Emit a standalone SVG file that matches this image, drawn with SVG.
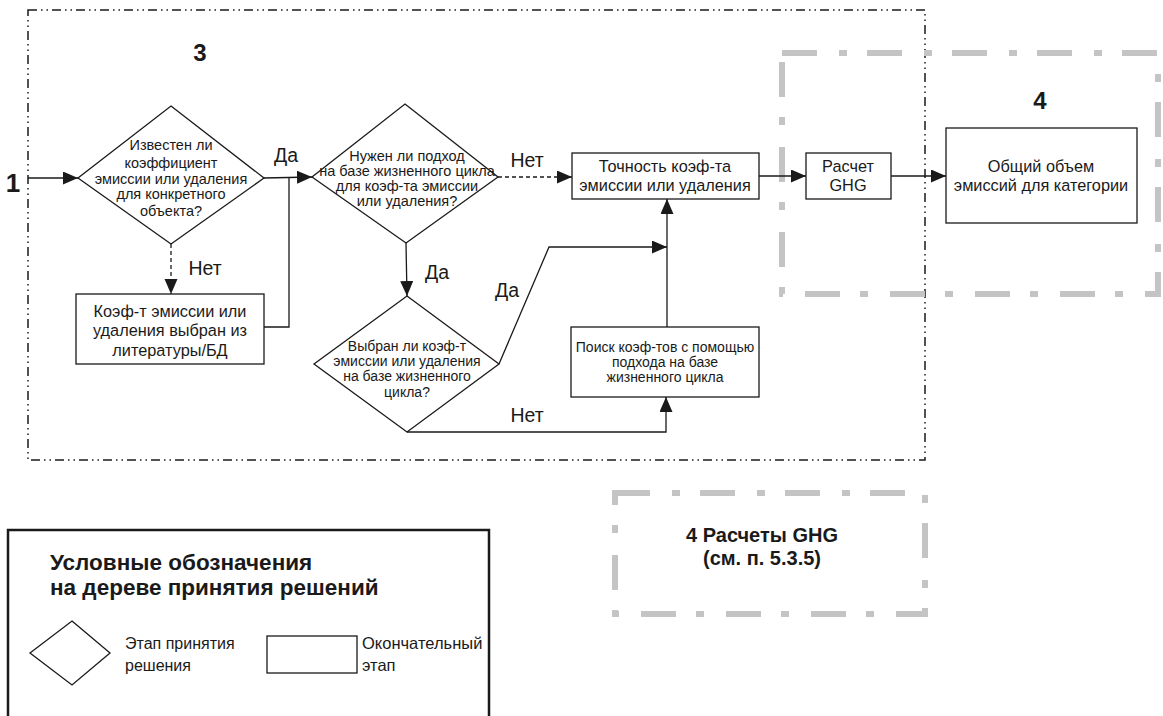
<svg xmlns="http://www.w3.org/2000/svg" width="1163" height="716" viewBox="0 0 1163 716">
<defs>
<style>
text{font-family:"Liberation Sans",Arial,sans-serif;fill:#1a1a1a}
.n{fill:#fff;stroke:#1a1a1a;stroke-width:1.3}
.c{fill:none;stroke:#1a1a1a;stroke-width:1.3}
.d{stroke-dasharray:4 3}
.t14{font-size:14.5px}
.t13{font-size:14.5px}
.t13b{font-size:14px}
.t15{font-size:16.3px}
.lab{font-size:19.5px}
.big{font-size:24px;font-weight:bold}
.frame3{fill:none;stroke:#1a1a1a;stroke-width:1.5;stroke-dasharray:9 4 1.5 4 1.5 4}
.gray{fill:none;stroke:#c4c4c4;stroke-width:6;stroke-dasharray:35 22 8 20}
</style>
<marker id="ar" markerUnits="userSpaceOnUse" markerWidth="16" markerHeight="14" refX="15" refY="6.5" orient="auto">
<path d="M0,0 L15,6.5 L0,13 z" fill="#1a1a1a"/>
</marker>
</defs>
<rect width="1163" height="716" fill="#fff"/>

<g id="frames">
<rect class="frame3" x="28" y="10" width="897" height="450"/>
<rect class="gray" x="782" y="53" width="376" height="241"/>
<rect class="gray" x="615" y="493" width="310" height="121"/>
<text x="200" y="61" class="big" text-anchor="middle">3</text>
<text x="1040" y="109" class="big" text-anchor="middle">4</text>
<text x="13" y="192" class="big" text-anchor="middle" style="font-size:26px">1</text>
</g>

<g id="connectors">
<line class="c" x1="28" y1="178" x2="78" y2="178" marker-end="url(#ar)"/>
<line class="c" x1="264" y1="178" x2="312" y2="177" marker-end="url(#ar)"/>
<polyline class="c" points="289,178 289,327 264,327"/>
<line class="c d" x1="171" y1="244" x2="171" y2="294" marker-end="url(#ar)"/>
<line class="c d" x1="498" y1="177" x2="572" y2="177" marker-end="url(#ar)"/>
<line class="c" x1="759" y1="176" x2="806" y2="176" marker-end="url(#ar)"/>
<line class="c" x1="891" y1="176" x2="946" y2="176" marker-end="url(#ar)"/>
<line class="c" x1="406" y1="243" x2="407" y2="296" marker-end="url(#ar)"/>
<polyline class="c" points="499,364 549,247 667,247" marker-end="url(#ar)"/>
<line class="c" x1="667" y1="327" x2="667" y2="199" marker-end="url(#ar)"/>
<polyline class="c" points="407,432 666,432 666,397" marker-end="url(#ar)"/>
<text x="286" y="162" class="lab" text-anchor="middle">Да</text>
<text x="205" y="275" class="lab" text-anchor="middle">Нет</text>
<text x="527" y="167" class="lab" text-anchor="middle">Нет</text>
<text x="437" y="279" class="lab" text-anchor="middle">Да</text>
<text x="507" y="297" class="lab" text-anchor="middle">Да</text>
<text x="527" y="422" class="lab" text-anchor="middle">Нет</text>
</g>

<g id="d1">
<polygon class="n" points="171,106 264,178 171,244 78,178"/>
<text class="t14" text-anchor="middle"><tspan x="171" y="150">Известен ли</tspan><tspan x="171" y="168">коэффициент</tspan><tspan x="171" y="184">эмиссии или удаления</tspan><tspan x="171" y="199">для конкретного</tspan><tspan x="171" y="216">объекта?</tspan></text>
</g>

<g id="b1">
<rect class="n" x="76" y="294" width="188" height="70"/>
<text class="t15" text-anchor="middle"><tspan x="170" y="317">Коэф-т эмиссии или</tspan><tspan x="170" y="336">удаления выбран из</tspan><tspan x="170" y="356">литературы/БД</tspan></text>
</g>

<g id="d2">
<polygon class="n" points="405,104 498,177 406,243 312,177"/>
<text class="t13" text-anchor="middle"><tspan x="407" y="161">Нужен ли подход</tspan><tspan x="407" y="176">на базе жизненного цикла</tspan><tspan x="407" y="191">для коэф-та эмиссии</tspan><tspan x="407" y="206">или удаления?</tspan></text>
</g>

<g id="b2">
<rect class="n" x="572" y="153" width="187" height="46"/>
<text class="t15" text-anchor="middle"><tspan x="665" y="172">Точность коэф-та</tspan><tspan x="665" y="191">эмиссии или удаления</tspan></text>
</g>

<g id="b3">
<rect class="n" x="806" y="153" width="85" height="46"/>
<text class="t15" text-anchor="middle"><tspan x="848" y="172">Расчет</tspan><tspan x="848" y="191">GHG</tspan></text>
</g>

<g id="b4">
<rect class="n" x="946" y="128" width="191" height="95"/>
<text class="t15" text-anchor="middle"><tspan x="1041" y="172">Общий объем</tspan><tspan x="1041" y="191">эмиссий для категории</tspan></text>
</g>

<g id="d3">
<polygon class="n" points="407,296 499,364 407,432 314,364"/>
<text class="t13b" text-anchor="middle"><tspan x="407" y="351">Выбран ли коэф-т</tspan><tspan x="407" y="366">эмиссии или удаления</tspan><tspan x="407" y="381">на базе жизненного</tspan><tspan x="407" y="397">цикла?</tspan></text>
</g>

<g id="b5">
<rect class="n" x="571" y="327" width="188" height="70"/>
<text class="t13b" text-anchor="middle"><tspan x="665" y="352">Поиск коэф-тов с помощью</tspan><tspan x="665" y="367">подхода на базе</tspan><tspan x="665" y="382">жизненного цикла</tspan></text>
</g>

<g id="note">
<text text-anchor="middle" style="font-size:20px;font-weight:bold"><tspan x="762" y="542">4 Расчеты GHG</tspan><tspan x="762" y="565">(см. п. 5.3.5)</tspan></text>
</g>

<g id="legend">
<rect x="8" y="530" width="481" height="200" fill="none" stroke="#1a1a1a" stroke-width="2.5"/>
<text x="50" y="570" style="font-size:22.5px;font-weight:bold">Условные обозначения</text>
<text x="50" y="595" style="font-size:22.5px;font-weight:bold">на дереве принятия решений</text>
<polygon class="n" points="72,621 110,653 72,685 30,653"/>
<text x="125" y="649" style="font-size:16px">Этап принятия</text>
<text x="125" y="671" style="font-size:16px">решения</text>
<rect class="n" x="267" y="636" width="90" height="37"/>
<text x="362" y="649" style="font-size:16.5px">Окончательный</text>
<text x="362" y="671" style="font-size:16.5px">этап</text>
</g>
</svg>
